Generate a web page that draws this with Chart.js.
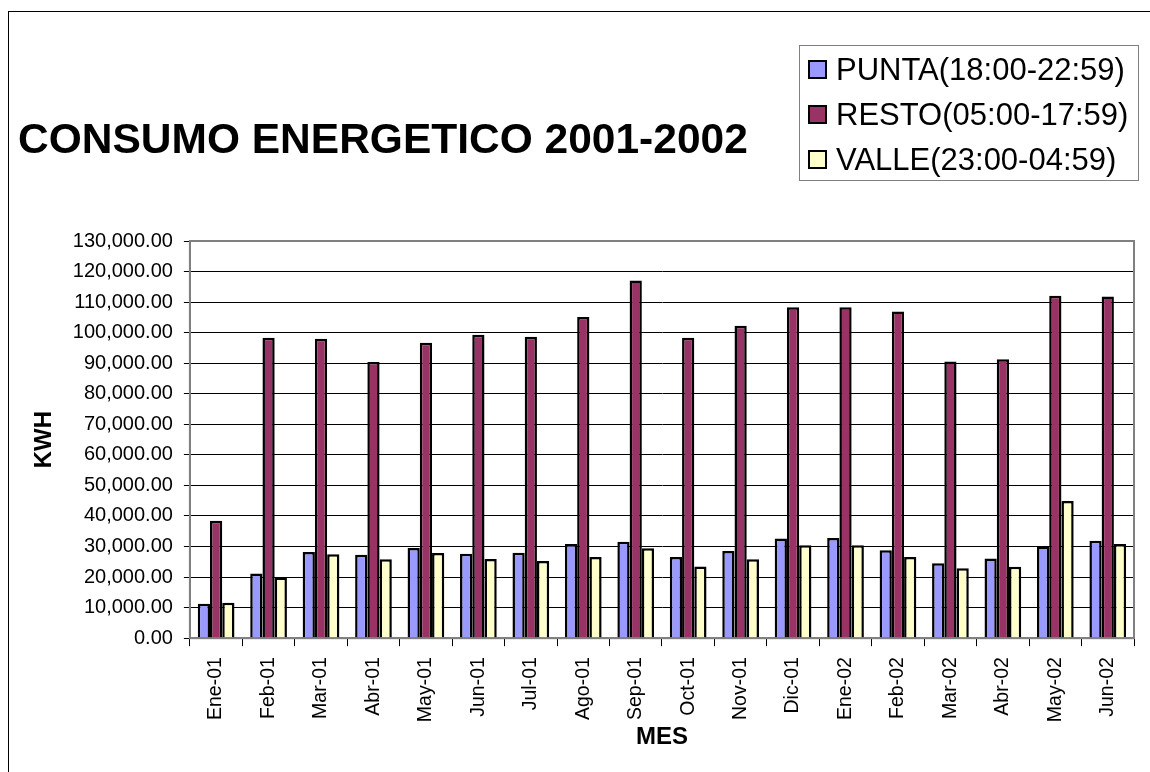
<!DOCTYPE html>
<html>
<head>
<meta charset="utf-8">
<script src="https://cdn.jsdelivr.net/npm/chart.js@4.4.0/dist/chart.umd.min.js"></script>
<style>
  body { margin: 0; background: #fff; }
  #wrap { position: absolute; left: 0; top: 0; width: 1150px; height: 772px; }
</style>
</head>
<body>
<div id="wrap"><canvas id="chart" width="1150" height="772"></canvas></div>
<script>
const meses = ['Ene-01', 'Feb-01', 'Mar-01', 'Abr-01', 'May-01', 'Jun-01', 'Jul-01', 'Ago-01', 'Sep-01',
  'Oct-01', 'Nov-01', 'Dic-01', 'Ene-02', 'Feb-02', 'Mar-02', 'Abr-02', 'May-02', 'Jun-02'];
const punta = [11300, 21200, 28200, 27300, 29500, 27600, 28000, 30800, 31600,
  26600, 28500, 32600, 32800, 28800, 24500, 26100, 30000, 31900];
const resto = [38400, 98300, 98000, 90400, 96700, 99300, 98700, 105100, 117100,
  98300, 102300, 108300, 108300, 106900, 90600, 91300, 112100, 111800];
const valle = [11600, 19900, 27500, 25800, 27900, 25900, 25300, 26600, 29400,
  23500, 25800, 30400, 30400, 26600, 22900, 23400, 44900, 30800];
const titulo = 'CONSUMO ENERGETICO 2001-2002';

const fmt = (v) => v.toLocaleString('en-US', { minimumFractionDigits: 2, maximumFractionDigits: 2 });

// marco, titulo y leyenda dibujados a mano
const decor = {
  id: 'decor',
  beforeDraw(chart) {
    const c = chart.ctx;
    c.save();
    c.fillStyle = '#fff';
    c.fillRect(0, 0, chart.width, chart.height);
    c.strokeStyle = '#000';
    c.lineWidth = 1;
    c.strokeRect(8.5, 11.5, 1200, 900);
    c.restore();
  },
  afterDraw(chart) {
    const c = chart.ctx;
    const a = chart.chartArea;
    c.save();
    // borde del area de trazado
    c.strokeStyle = '#808080';
    c.lineWidth = 2;
    c.strokeRect(a.left, a.top, a.right - a.left, a.bottom - a.top);

    c.fillStyle = '#000';
    c.font = 'bold 42.5px "Liberation Sans", Arial, sans-serif';
    c.textBaseline = 'alphabetic';
    c.fillText(titulo, 18, 153);

    // leyenda
    c.strokeStyle = '#808080';
    c.lineWidth = 1;
    c.strokeRect(799.5, 45.5, 339, 135);
    c.font = '31px "Liberation Sans", Arial, sans-serif';
    chart.data.datasets.forEach((ds, i) => {
      const cy = 69 + i * 45;
      c.fillStyle = ds.backgroundColor;
      c.fillRect(809, cy - 8, 17, 17);
      c.strokeStyle = '#000';
      c.lineWidth = 2;
      c.strokeRect(809, cy - 8, 17, 17);
      c.fillStyle = '#000';
      c.fillText(ds.label, 836, cy + 11);
    });
    c.restore();
  }
};

const ctx = document.getElementById('chart').getContext('2d');
const chart = new Chart(ctx, {
  type: 'bar',
  data: {
    labels: meses,
    datasets: [
      { label: 'PUNTA(18:00-22:59)', data: punta, backgroundColor: '#9999FF', borderColor: '#000', borderWidth: 2.5 },
      { label: 'RESTO(05:00-17:59)', data: resto, backgroundColor: '#993366', borderColor: '#000', borderWidth: 2.5 },
      { label: 'VALLE(23:00-04:59)', data: valle, backgroundColor: '#FFFFCC', borderColor: '#000', borderWidth: 2.5 }
    ]
  },
  options: {
    responsive: false,
    animation: false,
    layout: { padding: { left: 30, top: 241, right: 16, bottom: 18 } },
    plugins: {
      legend: { display: false },
      title: { display: false },
      tooltip: { enabled: false }
    },
    datasets: { bar: { categoryPercentage: 0.7, barPercentage: 1 } },
    scales: {
      x: {
        grid: { offset: true, drawOnChartArea: false, tickLength: 8, tickColor: '#000' },
        border: { color: '#808080', width: 2 },
        ticks: {
          color: '#000', minRotation: 90, maxRotation: 90, padding: 11,
          font: { family: '"Liberation Sans", Arial, sans-serif', size: 19.5 }
        },
        title: {
          display: true, text: 'MES', color: '#000', padding: { top: -10, bottom: 2 },
          font: { family: '"Liberation Sans", Arial, sans-serif', size: 24, weight: 'bold' }
        }
      },
      y: {
        min: 0, max: 130000,
        grid: { color: '#000', lineWidth: 1, tickLength: 6, tickColor: '#000' },
        border: { color: '#808080', width: 2 },
        ticks: {
          stepSize: 10000, color: '#000', padding: 11,
          font: { family: '"Liberation Sans", Arial, sans-serif', size: 20 },
          callback: (v) => fmt(v)
        },
        title: {
          display: true, text: 'KWH', color: '#000', padding: { top: 0, bottom: 3 },
          font: { family: '"Liberation Sans", Arial, sans-serif', size: 24, weight: 'bold' }
        }
      }
    }
  },
  plugins: [decor]
});
</script>
</body>
</html>
